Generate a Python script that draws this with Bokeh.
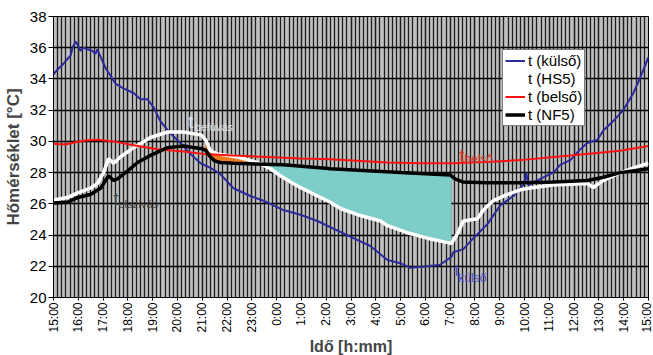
import numpy as np
from bokeh.plotting import figure
from bokeh.models import FixedTicker, Label, Legend, LegendItem
from bokeh.embed import file_html
from bokeh.resources import INLINE

# hours after 15:00
tick_labels = ["15:00", "16:00", "17:00", "18:00", "19:00", "20:00", "21:00", "22:00", "23:00",
               "0:00", "1:00", "2:00", "3:00", "4:00", "5:00", "6:00", "7:00", "8:00", "9:00",
               "10:00", "11:00", "12:00", "13:00", "14:00", "15:00"]

kulso_h = [0.00, 0.16, 0.36, 0.52, 0.69, 0.77, 0.89, 0.97, 1.09, 1.21, 1.37, 1.57, 1.69, 1.77, 1.85,
           2.10, 2.30, 2.50, 2.82, 3.23, 3.51, 3.79, 4.03, 4.31, 4.72, 5.12, 5.52, 5.93, 6.33, 6.73,
           7.26, 7.94, 8.47, 9.27, 9.96, 10.65, 11.17, 12.10, 12.78, 13.47, 13.99, 14.40, 15.08, 15.60,
           16.05, 16.13, 16.53, 16.94, 17.50, 18.02, 18.55, 18.83, 18.99, 19.07, 19.15, 19.64, 20.16,
           20.44, 20.85, 21.25, 21.53, 21.94, 22.18, 22.58, 22.98, 23.39, 23.67, 24.00]
kulso_t = [34.3, 34.6, 34.9, 35.2, 35.5, 36.0, 36.4, 36.2, 35.8, 36.0, 35.9, 35.8, 35.6, 35.9, 35.6,
           34.7, 34.2, 33.7, 33.4, 33.1, 32.7, 32.7, 32.2, 31.3, 30.5, 29.9, 29.2, 28.6, 28.3, 27.9,
           27.0, 26.5, 26.2, 25.6, 25.3, 24.9, 24.5, 23.8, 23.3, 22.4, 22.2, 21.9, 22.0, 22.1,
           22.6, 22.9, 23.1, 23.8, 24.7, 25.9, 26.5, 27.0, 27.3, 28.0, 27.2, 27.6, 28.0,
           28.5, 28.8, 29.5, 29.9, 30.1, 30.7, 31.3, 32.0, 33.1, 34.1, 35.4]

hs5_h = [0.00, 0.56, 0.97, 1.49, 1.77, 2.02, 2.22, 2.42, 2.70, 3.23, 3.91, 4.60, 5.24, 5.97, 6.13,
         6.33, 6.61, 7.42, 8.23, 8.75, 9.15, 9.56, 9.96, 10.65, 11.17, 11.57, 12.38, 13.19, 13.47,
         14.27, 15.08, 15.95, 16.05, 16.30, 16.53, 17.10, 17.34, 17.74, 18.31, 18.83, 19.35, 20.16,
         21.53, 21.77, 22.18, 22.74, 23.39, 24.00]
hs5_t = [26.25, 26.4, 26.7, 27.0, 27.3, 28.0, 28.9, 28.6, 29.0, 29.6, 30.25, 30.6, 30.6, 30.4, 30.1,
         29.4, 29.2, 29.0, 28.65, 28.25, 27.8, 27.4, 27.05, 26.5, 26.1, 25.7, 25.25, 24.9, 24.6,
         24.15, 23.8, 23.5, 23.45, 24.1, 24.9, 25.05, 25.6, 26.2, 26.6, 26.9, 27.05, 27.2,
         27.3, 27.05, 27.5, 27.9, 28.3, 28.6]

belso_h = [0.00, 0.48, 0.89, 1.29, 1.77, 2.42, 3.23, 4.19, 5.24, 6.05, 7.26, 8.63, 9.96, 11.17,
           13.47, 14.80, 16.13, 17.62, 18.83, 20.85, 22.86, 24.00]
belso_t = [29.85, 29.8, 29.95, 30.05, 30.1, 30.0, 29.75, 29.5, 29.35, 29.2, 29.1, 29.0, 28.9, 28.85,
           28.65, 28.6, 28.6, 28.7, 28.8, 29.1, 29.4, 29.7]

nf5_h = [0.00, 0.56, 0.97, 1.49, 1.90, 2.22, 2.42, 2.58, 2.98, 3.39, 3.91, 4.60, 5.24, 5.93, 6.13,
         6.33, 6.50, 6.73, 7.26, 9.27, 10.86, 11.17, 13.99, 16.00, 16.20, 16.50, 17.50, 18.83, 20.16,
         21.53, 22.18, 22.86, 24.00]
nf5_t = [26.05, 26.1, 26.4, 26.6, 27.0, 27.8, 27.5, 27.6, 28.1, 28.65, 29.1, 29.6, 29.7, 29.55, 29.45,
         29.0, 28.75, 28.65, 28.6, 28.5, 28.3, 28.25, 28.0, 27.85, 27.6, 27.4, 27.35, 27.35, 27.4,
         27.5, 27.7, 28.0, 28.25]

orange_start = 6.13
cyan_end = 16.05

BLUE = "#2B2B9C"
RED = "#FF1010"
ORANGE = "#F07A1E"
CYAN = "#7DCDC9"

p = figure(frame_width=595, frame_height=281, x_range=(0, 24), y_range=(20, 38),
           output_backend="svg", toolbar_location=None,
           min_border_left=53, min_border_right=5, min_border_top=16, min_border_bottom=58)
p.title.visible = False
p.background_fill_color = "#C0C0C0"
p.border_fill_color = "white"
p.outline_line_color = "black"
p.outline_line_width = 1

# fills between HS5 and NF5
grid = np.linspace(orange_start, cyan_end, 2000)
w_i = np.interp(grid, hs5_h, hs5_t)
b_i = np.interp(grid, nf5_h, nf5_t)
cross = grid[np.argmax(w_i < b_i)]
go = grid[grid <= cross]
gc = grid[grid >= cross]
p.varea(x=go, y1=np.interp(go, nf5_h, nf5_t), y2=np.interp(go, hs5_h, hs5_t), fill_color=ORANGE)
p.varea(x=gc, y1=np.interp(gc, nf5_h, nf5_t), y2=np.interp(gc, hs5_h, hs5_t), fill_color=CYAN)

r_k = p.line(kulso_h, kulso_t, line_color=BLUE, line_width=2)
r_h = p.line(hs5_h, hs5_t, line_color="white", line_width=3.5)
r_b = p.line(belso_h, belso_t, line_color=RED, line_width=2)
r_n = p.line(nf5_h, nf5_t, line_color="black", line_width=3.5)

# axes
p.xaxis.ticker = FixedTicker(ticks=list(range(25)), minor_ticks=[i / 6 for i in range(145)])
p.xaxis.major_label_overrides = {i: s for i, s in enumerate(tick_labels)}
p.xaxis.major_label_orientation = np.pi / 2
p.xaxis.major_label_text_font = "Liberation Sans"
p.xaxis.major_label_text_font_size = "12px"
p.xaxis.major_label_text_color = "black"
p.xaxis.major_label_standoff = 2
p.xaxis.major_tick_out = 3
p.xaxis.major_tick_in = 0
p.xaxis.minor_tick_out = 0
p.xaxis.minor_tick_in = 0
p.xaxis.axis_line_color = "black"
p.xaxis.axis_label = "Idő [h:mm]"
p.xaxis.axis_label_text_font = "Liberation Sans"
p.xaxis.axis_label_text_font_style = "bold"
p.xaxis.axis_label_text_font_size = "16px"
p.xaxis.axis_label_standoff = 2

p.yaxis.ticker = FixedTicker(ticks=list(range(20, 39, 2)))
p.yaxis.major_label_text_font = "Liberation Sans"
p.yaxis.major_label_text_font_size = "15px"
p.yaxis.major_label_text_color = "black"
p.yaxis.major_label_standoff = 2
p.yaxis.major_tick_out = 5
p.yaxis.major_tick_in = 0
p.yaxis.minor_tick_out = 0
p.yaxis.minor_tick_in = 0
p.yaxis.axis_line_color = "black"
p.yaxis.axis_label = "Hőmérséklet [°C]"
p.yaxis.axis_label_text_font = "Liberation Sans"
p.yaxis.axis_label_text_font_style = "bold"
p.yaxis.axis_label_text_font_size = "17px"
p.yaxis.axis_label_standoff = 4

p.xgrid.grid_line_color = "#1e1e1e"
p.xgrid.grid_line_width = 1.3
p.xgrid.minor_grid_line_color = "#1e1e1e"
p.xgrid.minor_grid_line_width = 1.3
p.ygrid.grid_line_color = "black"
p.ygrid.grid_line_width = 1.6

# annotations
def sub_label(x, y, xs, ys, sub, color, tsize="18px", ssize="11px"):
    p.add_layout(Label(x=x, y=y, text="t", text_color=color, text_font="Liberation Sans",
                       text_font_size=tsize, text_baseline="alphabetic"))
    p.add_layout(Label(x=xs, y=ys, text=sub, text_color=color, text_font="Liberation Sans",
                       text_font_size=ssize, text_baseline="alphabetic"))

sub_label(5.44, 31.21, 5.69, 30.89, "befúvás", "#E4E4E4")
sub_label(2.42, 26.34, 2.62, 25.96, "elszívás", "#444444")
sub_label(16.37, 29.10, 16.57, 28.90, "belső", "#D23A30", "19px", "12px")
sub_label(16.17, 21.73, 16.33, 21.22, "külső", "#5050C8", "17px", "12px")

legend = Legend(items=[
    LegendItem(label="t (külső)", renderers=[r_k]),
    LegendItem(label="t (HS5)", renderers=[r_h]),
    LegendItem(label="t (belső)", renderers=[r_b]),
    LegendItem(label="t (NF5)", renderers=[r_n]),
], location=(449, 171))
legend.label_text_font = "Liberation Sans"
legend.label_text_font_size = "15px"
legend.label_text_color = "black"
legend.label_height = 17
legend.glyph_height = 17
legend.glyph_width = 20
legend.label_standoff = 3
legend.spacing = 1
legend.padding = 2
legend.margin = 0
legend.border_line_color = "black"
legend.border_line_width = 1
legend.background_fill_color = "white"
legend.background_fill_alpha = 1
p.add_layout(legend, "center")

open("out.html", "w").write(file_html(p, INLINE))
